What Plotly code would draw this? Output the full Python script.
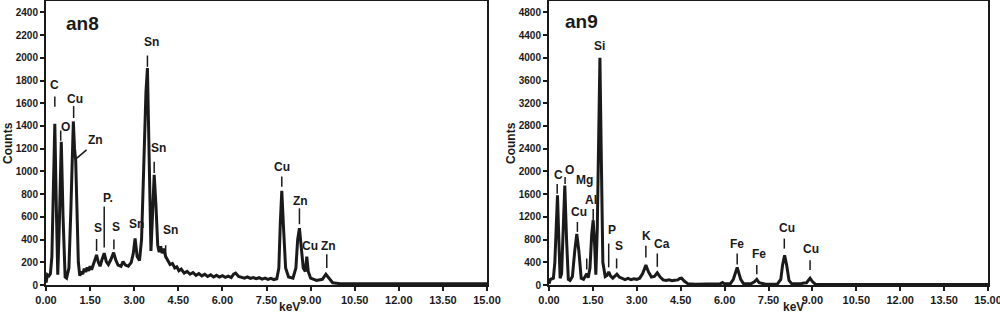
# Espectros EDS an8 / an9

# %% Bibliotecas
import plotly.graph_objects as go
from plotly.subplots import make_subplots

# %% Dados
# an8
an8_kev = [0.00, 0.05, 0.10, 0.15, 0.20, 0.25, 0.30, 0.35, 0.40, 0.45, 0.52, 0.58, 0.65, 0.70,
           0.78, 0.85, 0.93, 0.97, 1.01, 1.05, 1.10, 1.15, 1.20, 1.25, 1.30, 1.35, 1.40, 1.45,
           1.50, 1.55, 1.60, 1.66, 1.72, 1.78, 1.84, 1.90, 1.98, 2.05, 2.12, 2.20, 2.30, 2.38,
           2.45, 2.55, 2.62, 2.70, 2.80, 2.90, 2.97, 3.03, 3.10, 3.18, 3.25, 3.32, 3.40, 3.45,
           3.50, 3.57, 3.62, 3.68, 3.74, 3.80, 3.85, 3.90, 3.95, 4.00, 4.07, 4.15, 4.22, 4.30,
           4.38, 4.45, 4.52, 4.60, 4.70, 4.80, 4.90, 5.00, 5.10, 5.20, 5.30, 5.40, 5.50, 5.60,
           5.70, 5.80, 5.90, 6.00, 6.10, 6.20, 6.30, 6.38, 6.45, 6.55, 6.65, 6.75, 6.85, 6.95,
           7.05, 7.15, 7.25, 7.35, 7.45, 7.55, 7.65, 7.75, 7.85, 7.92, 7.97, 8.02, 8.08, 8.15,
           8.25, 8.40, 8.50, 8.56, 8.62, 8.68, 8.75, 8.82, 8.87, 8.92, 9.00, 9.20, 9.40, 9.52,
           9.60, 9.75, 10.00, 15.00]
an8_counts = [20, 90, 80, 100, 250, 900, 1420, 700, 90, 500, 1260, 600, 70, 60,
              150, 700, 1440, 1200, 1100, 700, 200, 80, 120, 95, 145, 115, 155, 125,
              165, 135, 175, 220, 265, 200, 165, 220, 280, 205, 180, 220, 285, 215,
              175, 165, 205, 175, 165, 200, 280, 410, 250, 215, 400, 1000, 1700, 1910,
              1200, 300, 600, 970, 700, 350, 290, 340, 280, 320, 250, 210, 180, 190,
              150, 160, 125, 140, 105, 120, 95, 110, 85, 100, 80, 95, 75, 90,
              70, 85, 70, 82, 68, 78, 65, 95, 105, 75, 68, 60, 72, 58,
              66, 55, 64, 52, 60, 50, 58, 48, 55, 150, 550, 830, 500, 150,
              70, 60, 150, 400, 500, 350, 150, 120, 250, 120, 60, 40, 50, 95,
              70, 20, 12, 10]

# an9
an9_kev = [0.00, 0.05, 0.10, 0.15, 0.20, 0.25, 0.29, 0.33, 0.38, 0.43, 0.48, 0.54, 0.60, 0.66,
           0.72, 0.80, 0.88, 0.95, 1.02, 1.10, 1.18, 1.24, 1.29, 1.34, 1.40, 1.46, 1.51, 1.56,
           1.60, 1.65, 1.70, 1.74, 1.78, 1.84, 1.92, 1.98, 2.04, 2.10, 2.18, 2.25, 2.32, 2.40,
           2.50, 2.60, 2.70, 2.80, 2.90, 3.00, 3.10, 3.20, 3.31, 3.40, 3.50, 3.60, 3.70, 3.80,
           3.90, 4.00, 4.10, 4.20, 4.30, 4.40, 4.47, 4.53, 4.62, 4.75, 5.00, 5.50, 5.85, 5.93,
           6.00, 6.20, 6.30, 6.43, 6.55, 6.65, 6.90, 7.03, 7.10, 7.18, 7.40, 7.80, 7.92, 7.98,
           8.05, 8.12, 8.20, 8.30, 8.60, 8.70, 8.80, 8.92, 9.00, 9.10, 15.00]
an9_counts = [20, 100, 110, 120, 400, 1200, 1580, 900, 120, 200, 1000, 1750, 800, 100,
              80, 150, 600, 900, 600, 120, 100, 150, 200, 130, 300, 900, 1140, 700,
              180, 1000, 3000, 4000, 2500, 400, 150, 170, 230, 160, 120, 150, 190, 140,
              110, 95, 115, 95, 110, 100, 120, 200, 350, 230, 140, 150, 215, 140,
              90, 80, 90, 75, 85, 90, 115, 120, 70, 20, 15, 15, 20, 45,
              20, 25, 100, 310, 100, 20, 20, 60, 100, 40, 15, 15, 100, 350,
              525, 350, 80, 20, 20, 35, 40, 120, 60, 15, 10]

# Rótulos dos picos: texto, keV do texto, counts do texto, keV do traço, início e fim do traço
an8_lbl_text = ['C', 'O', 'Cu', 'Zn', 'S', 'P.', 'S', 'Sn', 'Sn', 'Sn', 'Sn', 'Cu', 'Zn', 'Cu', 'Zn']
an8_lbl_x = [0.30, 0.66, 1.00, 1.68, 1.78, 2.10, 2.38, 3.08, 3.58, 3.84, 4.22, 8.04, 8.64, 8.97, 9.60]
an8_lbl_y = [1760, 1390, 1640, 1275, 500, 770, 510, 535, 2140, 1210, 480, 1035, 740, 340, 345]
an8_tick_x = [0.30, 0.50, 0.94, None, 1.72, 1.98, 2.31, None, 3.45, 3.68, 4.07, 8.02, 8.62, None, 9.55]
an8_tick_y0 = [1570, 1270, 1470, None, 300, 330, 315, None, 1920, 985, 255, 865, 535, None, 150]
an8_tick_y1 = [1660, 1360, 1575, None, 405, 690, 400, None, 2020, 1085, 350, 955, 675, None, 270]

an9_lbl_text = ['Si', 'C', 'O', 'Mg', 'Cu', 'Al', 'P', 'S', 'K', 'Ca', 'Fe', 'Fe', 'Cu', 'Cu']
an9_lbl_x = [1.74, 0.33, 0.70, 1.22, 1.04, 1.45, 2.16, 2.40, 3.34, 3.85, 6.43, 7.17, 8.12, 8.96]
an9_lbl_y = [4200, 1940, 2030, 1840, 1280, 1490, 960, 680, 860, 720, 730, 540, 1000, 630]
an9_tick_x = [None, 0.28, 0.55, 1.29, 0.97, 1.51, 2.04, 2.31, 3.31, 3.70, 6.43, 7.10, 8.04, 8.92]
an9_tick_y0 = [None, 1605, 1780, 275, 935, 1140, 310, 292, 485, 320, 360, 190, 640, 262]
an9_tick_y1 = [None, 1780, 1900, 467, 1110, 1340, 730, 467, 690, 555, 555, 350, 817, 437]

x_ticks = [0.0, 1.5, 3.0, 4.5, 6.0, 7.5, 9.0, 10.5, 12.0, 13.5, 15.0]

# %% Figura
cor = '#1a1a1a'
fonte = 'Liberation Sans, Arial, sans-serif'

fig = make_subplots(rows=1, cols=2)

fig.add_trace(go.Scatter(x=an8_kev, y=an8_counts, mode='lines',
                         line=dict(color=cor, width=3)), row=1, col=1)
fig.add_trace(go.Scatter(x=an9_kev, y=an9_counts, mode='lines',
                         line=dict(color=cor, width=3)), row=1, col=2)

eixo_x = dict(range=[0, 15], tickvals=x_ticks, ticktext=[f'{v:.2f}' for v in x_ticks],
              showgrid=False, zeroline=False, showline=True, linewidth=2, linecolor=cor,
              mirror=True, ticks='outside', ticklen=4, tickwidth=1.5, tickcolor=cor,
              automargin=False, ticklabeloverflow='allow',
              tickfont=dict(family=fonte, size=11, color=cor, weight='bold'))
eixo_y = dict(showgrid=False, zeroline=False, showline=True, linewidth=2, linecolor=cor,
              mirror=True, ticks='outside', ticklen=4, tickwidth=1.5, tickcolor=cor,
              automargin=False,
              tickfont=dict(family=fonte, size=10, color=cor, weight='bold'))

fig.update_xaxes(eixo_x)
fig.update_yaxes(eixo_y)
fig.update_xaxes(domain=[0.046, 0.487], row=1, col=1)
fig.update_xaxes(domain=[0.549, 0.988], row=1, col=2)
fig.update_yaxes(range=[0, 2500], dtick=200, row=1, col=1)
fig.update_yaxes(range=[0, 5000], dtick=400, row=1, col=2)

# Rótulos dos picos
paineis = [
    ('x', 'y', an8_lbl_text, an8_lbl_x, an8_lbl_y, an8_tick_x, an8_tick_y0, an8_tick_y1),
    ('x2', 'y2', an9_lbl_text, an9_lbl_x, an9_lbl_y, an9_tick_x, an9_tick_y0, an9_tick_y1),
]
for xr, yr, textos, lx, ly, tx, ty0, ty1 in paineis:
    for i in range(len(textos)):
        fig.add_annotation(x=lx[i], y=ly[i], xref=xr, yref=yr, text=textos[i], showarrow=False,
                           font=dict(family=fonte, size=12, color=cor, weight='bold'))
        if tx[i] is not None:
            fig.add_shape(type='line', xref=xr, yref=yr, x0=tx[i], x1=tx[i], y0=ty0[i], y1=ty1[i],
                          line=dict(color=cor, width=1.5))

# Traço diagonal do Zn (an8)
fig.add_shape(type='line', xref='x', yref='y', x0=1.38, y0=1190, x1=1.04, y1=1115,
              line=dict(color=cor, width=1.5))

# Nomes das amostras
fig.add_annotation(x=1.25, y=2300, xref='x', yref='y', text='an8', showarrow=False,
                   font=dict(family=fonte, size=19, color=cor, weight='bold'))
fig.add_annotation(x=1.12, y=4640, xref='x2', yref='y2', text='an9', showarrow=False,
                   font=dict(family=fonte, size=19, color=cor, weight='bold'))

# Títulos dos eixos
for xc in [0.289, 0.793]:
    fig.add_annotation(x=xc, y=-0.078, xref='paper', yref='paper', text='keV', showarrow=False,
                       xanchor='center', yanchor='middle',
                       font=dict(family=fonte, size=12, color=cor, weight='bold'))
for xc in [0.008, 0.511]:
    fig.add_annotation(x=xc, y=0.5, xref='paper', yref='paper', text='Counts', showarrow=False,
                       xanchor='center', yanchor='middle', textangle=-90,
                       font=dict(family=fonte, size=12, color=cor, weight='bold'))

fig.update_layout(
    width=1000, height=314,
    margin=dict(l=0, r=0, t=1, b=29),
    paper_bgcolor='white', plot_bgcolor='white',
    showlegend=False,
    font=dict(family=fonte, color=cor),
)

# Sem margem no body para a figura ocupar a janela toda
fig.write_html('out.html', config={'displayModeBar': False},
               post_script="document.body.style.margin='0';")
